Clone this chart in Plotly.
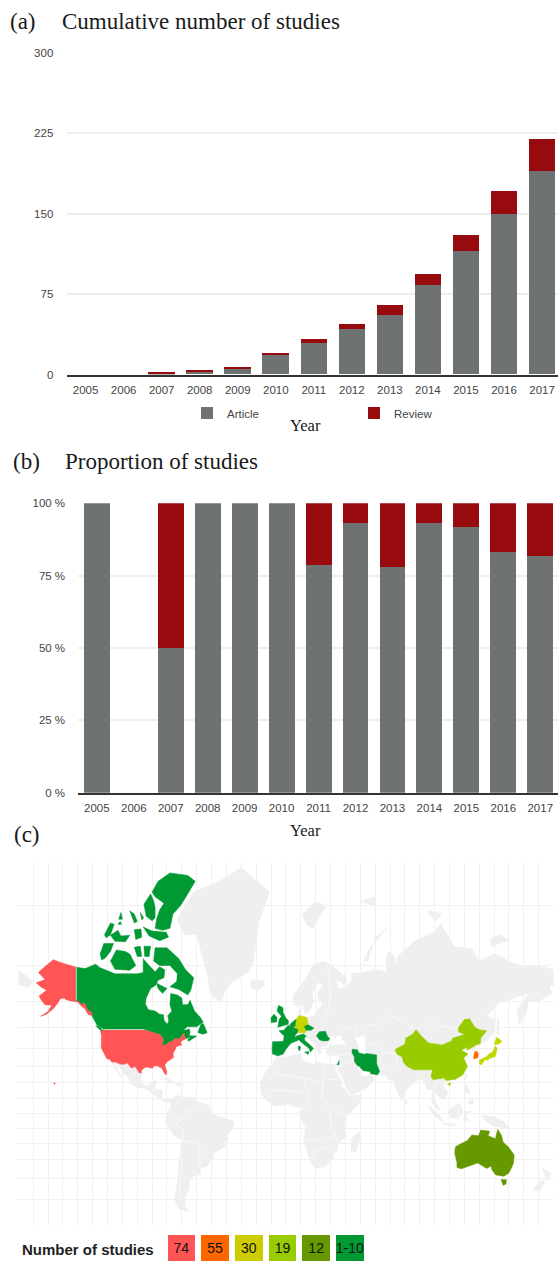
import math
import plotly.graph_objects as go

W, H = 558, 1261

# ---------- chart data ----------
years = [str(y) for y in range(2005, 2018)]
cum_article = [0, 0, 1, 3, 6, 18, 29, 42, 55, 83, 115, 150, 190]
cum_review = [0, 0, 1, 1, 1, 2, 4, 5, 10, 11, 15, 21, 30]
prop_article = [100, 0, 50, 100, 100, 100, 78.6, 93.1, 78, 93.1, 91.7, 83, 81.8]
prop_review = [0, 0, 50, 0, 0, 0, 21.4, 6.9, 22, 6.9, 8.3, 17, 18.2]
cum_ticks = [0, 75, 150, 225, 300]
prop_ticks = [0, 25, 50, 75, 100]
prop_ticktext = ["0 %", "25 %", "50 %", "75 %", "100 %"]

scale_labels = ["74", "55", "30", "19", "12", "1-10"]
scale_colors = ["#ff5555", "#ff6600", "#cccc00", "#99cc00", "#669900", "#009933"]

ARTICLE = "#6e7371"
REVIEW = "#970b0f"
LAND = "#efefef"

# ---------- map outlines (lon, lat) ----------
usa = [(-124.7,48.4),(-122.8,49),(-95.2,49),(-94.6,48.7),(-92,48.3),(-89.6,48),(-84.9,46.9),(-84.5,46.5),(-83.6,46.1),(-82.5,45.3),(-82.1,43.6),(-83.1,42.2),(-82.7,41.7),(-78.9,42.9),(-79.2,43.5),(-76.8,43.6),(-75,45),(-71.5,45),(-70.3,46.2),(-69.2,47.45),(-68.3,47.3),(-67.8,45.7),(-67,44.9),(-68.5,44.3),(-70.2,43.6),(-70.8,42.8),(-70,41.7),(-71.5,41.4),(-74,40.7),(-74.2,39.6),(-75.5,38),(-75.9,36.6),(-75.5,35.2),(-77.8,33.9),(-79.9,32.7),(-81.3,31.3),(-81.3,30),(-80.1,26.9),(-80.3,25.3),(-81.2,25.2),(-81.8,26.2),(-82.8,27.9),(-83.7,29.2),(-85.3,29.7),(-86.5,30.4),(-89.3,30.3),(-89.3,29.1),(-90.8,29.1),(-93.8,29.7),(-95,29.2),(-97.2,27.7),(-97.2,25.95),(-99.2,26.5),(-99.5,27.5),(-101.4,29.8),(-102.7,29.7),(-103.2,29),(-104.5,29.6),(-106.5,31.8),(-108.2,31.8),(-108.2,31.33),(-111,31.33),(-114.8,32.5),(-117.1,32.5),(-118.5,34),(-120.6,34.6),(-122,36.9),(-123.8,39.5),(-124.3,40.4),(-124.2,42),(-124.1,46.3)]
alaska = [(-141,69.6),(-141,60.3),(-139,60),(-137.5,58.9),(-135.5,59.7),(-133,57),(-130,55.9),(-130.5,54.8),(-133,55.2),(-135.5,57.5),(-137.5,58.2),(-140,59.7),(-144,60),(-148,60.5),(-149,61),(-151.7,60.8),(-153.5,59.3),(-156.5,57.3),(-161,55.3),(-165,54.5),(-160,56.3),(-157.5,58.7),(-162,58.7),(-164.5,60.3),(-166,61.7),(-161,63.5),(-165,64.5),(-168,65.6),(-162,66.5),(-166.5,68.3),(-163,69.5),(-156.5,71.3),(-150,70.5)]
hawaii = [(-156.2,20.2),(-155,19.7),(-155.7,19)]
canada = [(-141,69.6),(-135,69.3),(-128,70.3),(-125,69.5),(-115,68),(-108,68),(-100,68),(-96,68.3),(-96,71.5),(-92,70),(-88,68.5),(-85,69.7),(-81.5,69),(-82,67),(-86,66.3),(-87.5,65),(-91,64),(-94,61),(-94.5,59),(-92.5,57),(-88,56.5),(-85,55.3),(-82.3,55.1),(-82,53),(-80,51.3),(-78.8,52.5),(-79.5,54.7),(-76.8,56.5),(-78,58.7),(-77.5,62.5),(-73,62),(-70,61),(-69.5,58.8),(-66,58.8),(-64.5,60.3),(-61.5,56.5),(-57.5,54),(-55.7,52.2),(-60,50.2),(-66.5,50.2),(-69,48.5),(-65,49.2),(-64.5,47.8),(-65,46.2),(-61,45.8),(-60,46),(-65.5,43.5),(-66.2,44.3),(-64,45.8),(-67,44.9),(-67.8,45.7),(-68.3,47.3),(-69.2,47.45),(-70.3,46.2),(-71.5,45),(-75,45),(-76.8,43.6),(-79.2,43.5),(-78.9,42.9),(-82.7,41.7),(-83.1,42.2),(-82.1,43.6),(-82.5,45.3),(-83.6,46.1),(-84.5,46.5),(-84.9,46.9),(-89.6,48),(-92,48.3),(-94.6,48.7),(-95.2,49),(-122.8,49),(-123,49.3),(-127,50.8),(-130.3,54.5),(-130,55.9),(-133,57),(-135.5,59.7),(-137.5,58.9),(-139,60),(-141,60.3)]
vancouver = [(-128,50.7),(-125,50),(-123.4,48.4),(-125,48.8)]
newfoundland = [(-59.3,47.7),(-57,51.5),(-55.5,51.5),(-53,47.5),(-56,46.9)]
baffin = [(-80,73.7),(-72,71.5),(-67.5,69),(-62,67),(-64,63.5),(-66,62),(-72,63.7),(-78,64.5),(-73.5,66),(-73,68),(-78,70),(-85,70),(-89,71),(-88,73.7)]
victoria = [(-118,71),(-114,73.3),(-108,73),(-105,72.5),(-101,70),(-105,68.9),(-115,69.1)]
banks = [(-125,72.5),(-122.5,74.5),(-116,74.5),(-118,73),(-122,71.5),(-124,71.3)]
ellesmere = [(-61,82.5),(-66,83),(-78,83.2),(-86,82.5),(-90,81.5),(-88,81),(-82,80.3),(-85,79.5),(-87,78.3),(-88,77),(-83,76.7),(-78,77),(-76,79),(-71,80),(-68,80.8)]
axel = [(-95.5,80.2),(-91,81.3),(-89,80.6),(-88,79.8),(-88,78.5),(-90,78.1),(-94,78.7)]
devon = [(-96,77.2),(-90,76.6),(-80.5,76.4),(-79,75.6),(-85,75),(-92,75.8)]
melville = [(-118,75.9),(-113,76.7),(-111,75.8),(-105,75.9),(-108,74.8),(-115,74.9)]
somerset = [(-95.5,74),(-91,74),(-92,72),(-95,72)]
pow_island = [(-102,73.8),(-98,74),(-97,72),(-100,72)]
bathurst = [(-102,76.8),(-97.5,76.9),(-97,75.6),(-101,75.2)]
patrick = [(-122,76),(-118,77.8),(-115.5,77.6),(-118,76),(-121,75.5)]
ringnes = [(-105,79.4),(-102,79),(-100,78),(-102,77.8)]
amund = [(-98,79.2),(-95.7,78.5),(-97,78.2)]
borden = [(-112.5,78.3),(-110,78.3),(-111,79.2)]
mackenzie = [(-113,77.6),(-110.5,77.6),(-111.5,78)]
southampton = [(-87,65.5),(-80,64),(-83,62.5),(-86,64)]
greenland = [(-73,78.2),(-68,76),(-60,76),(-55,71),(-53,68),(-51,63),(-48,61),(-44,60),(-41,63),(-37,65.5),(-25,68.5),(-22,70.5),(-20,75),(-18,78),(-11,81.5),(-30,83.6),(-45,82.5),(-62,81.5),(-68,80)]
americas = [(-117.1,32.5),(-114.8,32.5),(-111,31.33),(-108.2,31.33),(-106.5,31.8),(-104.5,29.6),(-103.2,29),(-101.4,29.8),(-99.5,27.5),(-97.2,25.95),(-97.8,22.5),(-96,19),(-94.5,18.2),(-91.5,18.5),(-90.5,21),(-87,21.5),(-88,18),(-88.5,16),(-84,15.8),(-83.2,15),(-83.7,11),(-82.5,9.2),(-79.5,9.6),(-77.3,8.7),(-75,11),(-72,12.2),(-71,11),(-68,10.6),(-62,10.7),(-60,8.5),(-52,5),(-50,0),(-44,-2.5),(-35,-5.5),(-35,-9),(-39,-14),(-39,-18),(-41,-22),(-48,-25.5),(-48.7,-28),(-53.5,-34),(-58,-34.5),(-57,-38),(-62,-39),(-65,-41),(-65,-45),(-68,-50),(-68,-53),(-65,-55),(-72,-54),(-75,-50),(-73,-42),(-72,-32),(-70,-18),(-76,-14),(-81,-5),(-80,0),(-77.5,4),(-77.5,7.5),(-80,7.5),(-83,8.2),(-86,10.5),(-91,14),(-94.5,16.2),(-100,17),(-105.5,20.3),(-105.5,23),(-109.5,26),(-112.5,30),(-114.8,31.7),(-114.7,30),(-109.5,23),(-112,24.7),(-115,28.5)]
cuba = [(-85,22),(-80,23.1),(-74.2,20.2),(-77.7,19.9),(-82,22.5)]
hispaniola = [(-74.3,18.5),(-72.5,19.9),(-68.5,18.7),(-71.5,17.8)]
africa = [(-17,14.7),(-17,21),(-13,27.7),(-9.5,31),(-6,35.8),(-2,35),(10,37.3),(11,33.5),(15,32.3),(20,31),(20,32.8),(25,31.6),(32,31),(34.2,31.3),(32.5,29.5),(34,27),(37,21),(37.5,18),(43,12),(51,12),(49,6),(41,-2),(39,-7),(40.5,-15),(35,-20),(35,-24),(32.5,-26),(32,-29),(26,-34),(20,-34.8),(18,-33),(15,-27),(12,-17),(13.5,-10),(9,-1),(9.5,4),(6,4.4),(1,6),(-4,5.2),(-7.5,4.5),(-13,8.5),(-16.5,12.5)]
madagascar = [(49.5,-12),(50.3,-16),(47,-25),(44,-25),(43.5,-21),(44.5,-16)]
eurasia = [(-9,37),(-9.3,39),(-9,43.3),(-2,43.5),(-1.2,46),(-4.7,48.4),(-1.5,48.7),(1.5,50.5),(4,52),(8,54),(8.5,57),(10.5,57.5),(10,55),(14,54),(19,54.5),(21,57),(24,58),(24,59.5),(30,60),(23,60),(21.5,61),(21.5,63),(25,65),(22,65.8),(17.5,62.5),(18.5,60),(16.5,57),(14,55.5),(12.5,56),(11,59),(8,58),(5.5,59),(5,62),(13,66.5),(18,70),(25,71),(31,70),(41,67),(40,65),(34,66.5),(35,64),(38,64),(44,66),(44,68),(54,68.5),(60,69),(68,68.5),(67,71),(69,73),(73,72),(74,69),(75,72),(81,73.5),(87,75),(100,76.5),(104,77.7),(113,74),(125,73.5),(130,71),(140,72.5),(150,71),(160,69.7),(170,70),(180,69),(180,65),(177,64.5),(179,62.5),(170,60),(163,60),(162,56),(156.7,51),(155.5,57),(164,62.5),(156,61.5),(143,59.3),(135,54.7),(141,53),(140,48),(135,43.5),(130.7,42.3),(127.5,39.8),(129.4,37),(129,35),(126.3,34.5),(126.5,37.5),(125,39.6),(121.5,39),(122,40.7),(118,39),(122.5,37),(119.5,35),(122,30),(119,25),(114,22.3),(108,21.5),(106,19),(109,13),(106,9),(105,10),(103,11),(100.5,13.5),(99.5,10),(104,1.5),(101,3),(98,8),(98.5,16),(94.5,16),(94,19),(91.5,22.5),(89,21.8),(87,21),(85,19.5),(80.3,15),(80,11),(77.5,8),(73,19),(72.5,21.5),(69,22),(67,25),(61.5,25),(57,26),(56.5,27),(52,27.5),(49,30.3),(48,29.5),(50,26),(52,24),(54.5,24.2),(56.3,26),(59.8,22.5),(55,17),(45,12.8),(43,13),(39,21),(35,28),(34.9,31.3),(36,36.5),(32,36),(28,36.7),(26.5,39),(29,41),(35,42),(41.5,41.5),(38,44.5),(37,46.7),(33.5,46),(33,44.5),(31,46.5),(28.5,44),(28,41.5),(24,40.8),(23,39.5),(24,37.8),(22.5,36.5),(19.5,41),(19,42.5),(14,45.5),(12.3,45.5),(16.5,41),(18.5,40),(16.5,38),(15.5,40),(12,42),(8.5,44.3),(3.5,43.3),(3.2,41.8),(0,39.5),(-2,36.8),(-5.5,36)]
chukotka = [(-180,69),(-175,67.5),(-170,66),(-173,64.3),(-180,65)]
grey_islands = [
    [(-24,65.5),(-22,66.4),(-15,66.2),(-14,65),(-19,63.4),(-22.7,64)],
    [(11,79),(20,80.5),(27,80),(18,77),(14,77.5)],
    [(52,71),(57,74),(68,77),(60,75.5),(55,71)],
    [(80,9.7),(82,7.5),(80.5,6)],
    [(109,1.5),(117,7),(119,1),(116,-4),(110,-2.5)],
    [(95.5,5.5),(104,-2),(106,-6),(101.5,-3),(97,2)],
    [(105.5,-6.5),(114.5,-7.5),(114.5,-8.5),(106,-7.5)],
    [(119.5,-5),(120,1),(125,1.5),(121,-1),(122.5,-5)],
    [(131,-1),(141,-2.7),(147,-6),(150.5,-10.5),(143,-9),(138,-8),(133,-4)],
    [(120.5,18.5),(122,18.5),(124,13),(120.5,14)],
    [(122,7),(125.5,9.8),(126,6.5),(124,6)],
    [(121,25),(122,25),(120.8,22),(120,23)],
    [(142,54),(143.5,52),(143,46.5),(142,47)],
    [(172.7,-34.5),(178.5,-37.7),(175,-41.5),(174,-39)],
    [(172.5,-40.7),(174,-42),(170.5,-46.5),(166.5,-46),(168,-44)],
    [(138,75.5),(145,76),(150,75),(138,74)],
    [(95,79.5),(105,79),(100,78)],
    [(50,80.5),(60,81),(60,80)],
]
caspian = [(47,45),(53,46.5),(53,41),(54,37),(50,37.5),(49,41)]
china = [(73.5,39.5),(80,42),(80.5,45),(85.5,47),(87.5,49),(91,46),(96,42.7),(105,41.7),(111.5,43.7),(112,45),(120,46.7),(116,48),(116,49.8),(120,53.2),(123.5,53.5),(127,50),(130.5,48.8),(135,48.4),(131,45),(131,43),(130.7,42.3),(128,41.8),(124.4,40),(121.5,39),(122,40.7),(118,39),(122.5,37),(119.5,35),(122,30),(119,25),(114,22.3),(108,21.5),(106,23),(102,22.5),(99,22),(97.5,24),(98.5,28),(92,28),(86,28),(81,30.2),(79,32.5),(78,35.5),(74.5,37)]
hainan = [(108.7,19.3),(111,20),(110,18.3)]
honshu = [(130,33.5),(132,34.5),(135,35.7),(137,37.4),(139,38),(141,41.3),(142,39.5),(140.8,35.7),(137,34.6),(135.5,33.5),(134,34),(131.5,31),(130.2,31.3)]
hokkaido = [(140,42),(141.7,45.5),(145.3,43.5),(143,42)]
south_korea = [(126.3,34.4),(126.7,37.7),(128.3,38.6),(129.4,37),(129,35)]
iran = [(44.5,39.5),(48,39.3),(49,37.5),(53,36.8),(54,37.3),(61,36.5),(61,31.5),(63,27),(61.5,25),(57,25.7),(56.5,27),(52,27.5),(49,30.3),(48,30.5),(46,33),(46,35.5),(44.5,37.5)]
israel = [(34.3,31),(35.8,33.2),(35.6,31)]
france = [(-1.8,43.4),(-1.2,46),(-4.7,48.4),(-1.5,48.7),(1.5,50.8),(4,50),(8,49),(7.5,47.5),(6,46.3),(7.5,43.8),(3.2,42.5)]
iberia = [(-9,37),(-9.3,39),(-9,43.3),(-1.8,43.4),(3.2,42.5),(0,39.5),(-2,36.8),(-5.5,36)]
uk = [(-5.5,50),(1.5,51.3),(1.7,52.7),(-0.2,54),(-2,56),(-2,57.7),(-5,58.6),(-6,56.5),(-3,54.5),(-4.5,53.3),(-5,51.7)]
ireland = [(-10,52),(-10,54),(-8,55.3),(-6,54),(-6.3,52.2)]
benelux = [(2.5,51),(4,52),(6.8,53.3),(6,50.2),(4,50)]
germany = [(6,51),(7,53.5),(9,54.8),(14,54),(15,51),(12.3,50.3),(13.7,48.7),(13,47.5),(7.5,47.6),(8,49),(6.2,49.5)]
czech = [(12.3,50.3),(15,51),(18.8,49.6),(16.9,48.7),(13.7,48.7)]
italy = [(6.7,45),(7,46),(12,47),(13.7,45.7),(12.3,45.3),(12.5,44),(16,41.8),(18.5,40),(16.5,38),(15.5,40),(12,42),(8.5,44.3),(7.5,43.8)]
sicily = [(12.5,38),(15.5,38.2),(15,36.7)]
sardinia = [(8.3,41),(9.7,41),(9.5,39),(8.5,39)]
romania = [(20.5,46.2),(22.5,48),(26.5,48.2),(28.2,45.5),(29.5,45),(28.5,43.8),(25,43.7),(22.5,44.3)]
australia = [(114,-22),(113.5,-26),(115,-31.5),(115,-34.3),(118,-35),(124,-33),(129,-31.7),(135,-34.8),(138,-33.5),(138.5,-35.5),(141,-38.3),(146.5,-39),(150,-37.3),(153,-32),(153.5,-27),(149.5,-22),(146,-19),(145,-15),(142.5,-10.8),(141.5,-14),(141,-17),(136,-15),(137,-12),(131,-11.3),(129.5,-15),(125,-14.5),(122,-18),(117,-20.5)]
tasmania = [(144.7,-40.7),(148.3,-40.8),(148,-43),(146,-43.6)]

# faint white borders across the grey land, and the two US/Canada land borders
grey_borders = [
    [(28,70),(30,62),(28,56),(24,52),(24,48),(28,46)],
    [(37,47),(40,50),(47,50),(47,45)],
    [(53,51),(61,51),(70,55),(77,53),(87.5,49)],
    [(87.5,49),(98,52),(107,50),(116,49.8)],
    [(53,42),(60,42),(66,38),(74.5,37)],
    [(61,35),(66,30),(62,26)],
    [(74.5,37),(75,32),(70,26),(69,23)],
    [(44.5,37.5),(42,37),(36,36.5)],
    [(46,33),(39,32),(35,29)],
    [(-9,27),(-3,25),(12,23),(25,20),(25,31.6)],
    [(12,23),(15,13),(14,4),(9,2)],
    [(25,20),(24,9),(30,4),(41,-2)],
    [(-12,15),(3,15),(15,13)],
    [(36,22),(25,22)],
    [(30,4),(30,-8),(33,-14),(35,-20)],
    [(12,-17),(24,-18),(33,-14)],
    [(17,-29),(20,-25),(29,-22),(32,-26)],
    [(-70,-18),(-58,-20),(-58,-34)],
    [(-70,-18),(-69,-11),(-74,-7),(-70,-4),(-67,1),(-60,5)],
    [(-77,1),(-70,-4)],
    [(-72,-18),(-70,-33),(-72,-50)],
    [(-88,16),(-92,15)],
    [(98,28),(101,21),(99,12)],
    [(102,22),(107,16)],
    [(116,-4),(116,5)],
]
us_canada_lines = [[(-141,69.6),(-141,60.3)], [(-122.8,49),(-95.2,49)]]

grid_lons = list(range(-170, 180, 10))
grid_lats = list(range(-60, 90, 10))


def merc(lat):
    return math.log(math.tan(math.pi / 4 + math.radians(lat) / 2))


def poly_trace(polys, color):
    xs, ys = [], []
    for p in polys:
        closed = p + [p[0]]
        xs += [q[0] for q in closed] + [None]
        ys += [merc(q[1]) for q in closed] + [None]
    return go.Scatter(x=xs, y=ys, xaxis="x3", yaxis="y3", mode="lines", fill="toself",
                      fillcolor=color, line=dict(width=0.5, color=color),
                      showlegend=False, hoverinfo="skip")


def line_trace(lines, width):
    xs, ys = [], []
    for p in lines:
        xs += [q[0] for q in p] + [None]
        ys += [merc(q[1]) for q in p] + [None]
    return go.Scatter(x=xs, y=ys, xaxis="x3", yaxis="y3", mode="lines",
                      line=dict(width=width, color="rgba(255,255,255,0.85)"),
                      showlegend=False, hoverinfo="skip")


def dom(a, b, size):
    return [a / size, min(1, b / size)]


def ydom(top, bottom):
    return [1 - bottom / H, 1 - top / H]


fig = go.Figure()

# panel (a)
fig.add_bar(x=years, y=cum_article, name="Article", marker_color=ARTICLE, xaxis="x", yaxis="y", legendgroup="a")
fig.add_bar(x=years, y=cum_review, name="Review", marker_color=REVIEW, xaxis="x", yaxis="y", legendgroup="r")
# panel (b)
fig.add_bar(x=years, y=prop_article, name="Article", marker_color=ARTICLE, xaxis="x2", yaxis="y2", showlegend=False)
fig.add_bar(x=years, y=prop_review, name="Review", marker_color=REVIEW, xaxis="x2", yaxis="y2", showlegend=False)

# panel (c)
fig.add_trace(poly_trace([greenland, americas, cuba, hispaniola, africa, madagascar, eurasia, chukotka] + grey_islands, LAND))
fig.add_trace(poly_trace([caspian], "#ffffff"))
fig.add_trace(line_trace(grey_borders, 0.7))
fig.add_trace(poly_trace([usa, alaska, hawaii], scale_colors[0]))
fig.add_trace(poly_trace([south_korea], scale_colors[1]))
fig.add_trace(poly_trace([germany, honshu, hokkaido], "#c4d600"))
fig.add_trace(poly_trace([china, hainan], scale_colors[3]))
fig.add_trace(poly_trace([australia, tasmania], scale_colors[4]))
fig.add_trace(poly_trace([canada, vancouver, newfoundland, baffin, victoria, banks, ellesmere, devon, axel, melville,
                          somerset, pow_island, bathurst, patrick, ringnes, amund, borden, mackenzie, southampton,
                          iran, israel, france, iberia, uk, ireland, benelux, czech, italy, sicily, sardinia,
                          romania], scale_colors[5]))
fig.add_trace(line_trace(us_canada_lines, 0.8))

# colour key of panel (c)
fig.add_bar(x=scale_labels, y=[1] * len(scale_labels), marker_color=scale_colors, xaxis="x4", yaxis="y4",
            text=scale_labels, textposition="inside", insidetextanchor="middle", textangle=0,
            constraintext="none", textfont=dict(family="Liberation Sans", size=14, color="#111111"),
            showlegend=False, hoverinfo="skip", width=0.82)

tick_font = dict(family="Liberation Sans", size=11.5, color="#444444")
serif = "Liberation Serif"


def note(text, x, y, size, family=serif, color="#1a1a1a", anchor="left"):
    return dict(text=text, x=x / W, y=1 - y / H, xref="paper", yref="paper", xanchor=anchor, yanchor="middle",
                showarrow=False, font=dict(family=family, size=size, color=color))


fig.update_layout(
    template="none",
    width=W, height=H, autosize=False, margin=dict(l=0, r=0, t=0, b=0, pad=0),
    paper_bgcolor="white", plot_bgcolor="white", barmode="stack", bargap=0.3,
    showlegend=True,
    legend=dict(orientation="h", x=187 / W, y=1 - 413 / H, xanchor="left", yanchor="middle", entrywidth=122,
                entrywidthmode="pixels", font=dict(family="Liberation Sans", size=11.5, color="#444444"),
                traceorder="normal", bgcolor="rgba(0,0,0,0)"),
    xaxis=dict(domain=dom(66.6, W, W), type="category", categoryorder="array", categoryarray=years,
               range=[-0.5, 12.42], anchor="y", showline=True, linecolor="#333333", linewidth=1.5,
               ticks="outside", ticklen=4, tickcolor="rgba(0,0,0,0)", tickfont=tick_font, showgrid=False,
               automargin=False),
    yaxis=dict(domain=ydom(52.7, 374.5), range=[0, 300], tickvals=cum_ticks, anchor="x",
               showgrid=True, gridcolor="#eeeeee", gridwidth=1.5, zeroline=False, automargin=False,
               ticks="outside", ticklen=10, tickcolor="rgba(0,0,0,0)", tickfont=tick_font),
    xaxis2=dict(domain=dom(78.4, W, W), type="category", categoryorder="array", categoryarray=years,
                range=[-0.5, 12.48], anchor="y2", showline=True, linecolor="#333333", linewidth=1.5,
                ticks="outside", ticklen=4, tickcolor="rgba(0,0,0,0)", tickfont=tick_font, showgrid=False,
                automargin=False),
    yaxis2=dict(domain=ydom(503.3, 792.7), range=[0, 100], tickvals=prop_ticks, ticktext=prop_ticktext, anchor="x2",
                showgrid=True, gridcolor="#eeeeee", gridwidth=1.5, zeroline=False, automargin=False,
                ticks="outside", ticklen=10, tickcolor="rgba(0,0,0,0)", tickfont=tick_font),
    xaxis3=dict(domain=dom(18.3, 553.6, W), range=[-180, 180], tickvals=grid_lons, showticklabels=False,
                showgrid=True, gridcolor="#f1f1f1", gridwidth=1, zeroline=False, anchor="y3", automargin=False),
    yaxis3=dict(domain=ydom(863, 1225.3), range=[merc(-60), 2.94], tickvals=[merc(v) for v in grid_lats],
                showticklabels=False, showgrid=True, gridcolor="#f1f1f1", gridwidth=1, zeroline=False, anchor="x3",
                automargin=False),
    xaxis4=dict(domain=dom(164.6, 366.8, W), type="category", categoryorder="array", categoryarray=scale_labels,
                visible=False, anchor="y4", automargin=False),
    yaxis4=dict(domain=ydom(1235, 1261), range=[0, 1], visible=False, anchor="x4", automargin=False),
    annotations=[
        note("(a)", 8, 21, 23),
        note("Cumulative number of studies", 60, 21, 23),
        note("Year", 305, 425.5, 16.5, anchor="center"),
        note("(b)", 10.5, 461, 23),
        note("Proportion of studies", 63, 461, 23),
        note("Year", 305, 830.5, 16.5, anchor="center"),
        note("(c)", 12, 834, 23),
        note("<b>Number of studies</b>", 20, 1249.5, 15, family="Liberation Sans", color="#222222"),
    ],
)

fig.write_html("out.html", config={"displayModeBar": False}, post_script="document.body.style.margin='0';")
